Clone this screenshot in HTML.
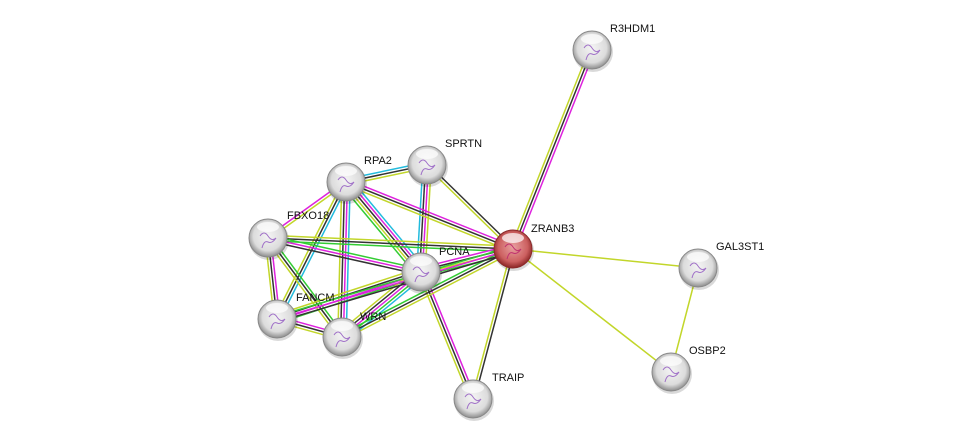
<!DOCTYPE html>
<html><head><meta charset="utf-8">
<style>
html,body{margin:0;padding:0;background:#fff;width:975px;height:444px;overflow:hidden}
svg{display:block}
text{font-family:"Liberation Sans",sans-serif;font-size:11px;fill:#111}
</style></head>
<body>
<svg id="s" width="975" height="444" viewBox="0 0 975 444" xmlns="http://www.w3.org/2000/svg">
<defs>
<radialGradient id="gw" cx="50%" cy="45%" r="55%">
<stop offset="0" stop-color="#f4f4f4"/><stop offset="0.7" stop-color="#dcdcdc"/><stop offset="1" stop-color="#8c8c8c"/>
</radialGradient>
<radialGradient id="gr" cx="50%" cy="45%" r="55%">
<stop offset="0" stop-color="#e8a0a0"/><stop offset="0.7" stop-color="#cc6060"/><stop offset="1" stop-color="#8a2424"/>
</radialGradient>
</defs>
<g id="edges"></g>
<g id="nodes"></g>
<text x="610" y="32">R3HDM1</text>
<text x="445" y="147">SPRTN</text>
<text x="364" y="164">RPA2</text>
<text x="287" y="219">FBXO18</text>
<text x="531" y="232">ZRANB3</text>
<text x="439" y="255">PCNA</text>
<text x="716" y="250">GAL3ST1</text>
<text x="296" y="301">FANCM</text>
<text x="360" y="320">WRN</text>
<text x="492" y="381">TRAIP</text>
<text x="689" y="354">OSBP2</text>
</svg>
<script>
var N={R:[592,50],S:[427,165],P2:[346,182],F:[268,238],Z:[513,249],P:[421,272],G:[698,268],FA:[277,319],W:[342,337],T:[473,399],O:[671,372]};
var C={m:"#dd22dd",k:"#333333",y:"#c2d62a",c:"#22bbdd",g:"#33cc33"};
var E=[["R","Z","mky"],["S","Z","ky"],["S","P2","ykc"],["S","P","ymkc"],["P2","Z","mky"],["P2","P","cmkyg"],["P2","F","ym"],["P2","FA","cky"],["P2","W","cmky"],["F","Z","ykg"],["F","P","gmk"],["F","FA","mky"],["F","W","gky"],["P","Z","mkyg"],["P","FA","gmky"],["P","W","cgmky"],["P","T","mky"],["Z","T","ky"],["Z","G","y"],["Z","O","y"],["G","O","y"],["FA","W","mky"],["W","Z","gky"],["FA","Z","gmk"]];
var ns="http://www.w3.org/2000/svg",eg=document.getElementById("edges"),ng=document.getElementById("nodes");
E.forEach(function(e){var a=N[e[0]],b=N[e[1]],dx=b[0]-a[0],dy=b[1]-a[1],L=Math.hypot(dx,dy),px=-dy/L,py=dx/L,n=e[2].length;
for(var i=0;i<n;i++){var o=(i-(n-1)/2)*2.8;var l=document.createElementNS(ns,"line");
l.setAttribute("x1",a[0]+px*o);l.setAttribute("y1",a[1]+py*o);l.setAttribute("x2",b[0]+px*o);l.setAttribute("y2",b[1]+py*o);
l.setAttribute("stroke",C[e[2][i]]);l.setAttribute("stroke-width","1.5");eg.appendChild(l);}});
for(var k in N){var p=N[k];var sh=document.createElementNS(ns,"circle");sh.setAttribute("cx",p[0]+1);sh.setAttribute("cy",p[1]+2);sh.setAttribute("r",20);sh.setAttribute("fill","rgba(0,0,0,0.15)");ng.appendChild(sh);
var c=document.createElementNS(ns,"circle");c.setAttribute("cx",p[0]);c.setAttribute("cy",p[1]);c.setAttribute("r",19);
c.setAttribute("fill",k=="Z"?"url(#gr)":"url(#gw)");c.setAttribute("stroke",k=="Z"?"#8a2a2a":"#888");c.setAttribute("stroke-width","1");ng.appendChild(c);
var q=document.createElementNS(ns,"path");q.setAttribute("d","M"+(p[0]-8)+" "+(p[1]-2)+"q4 -6 8 0t8 2q-4 6 -8 4t-6 6");q.setAttribute("fill","none");q.setAttribute("stroke",k=="Z"?"#c03070":"#a070c8");q.setAttribute("stroke-width","1");ng.appendChild(q);
var h=document.createElementNS(ns,"ellipse");h.setAttribute("cx",p[0]);h.setAttribute("cy",p[1]-11);h.setAttribute("rx",11);h.setAttribute("ry",5);h.setAttribute("fill","rgba(255,255,255,0.7)");ng.appendChild(h);}
</script>
</body></html>
